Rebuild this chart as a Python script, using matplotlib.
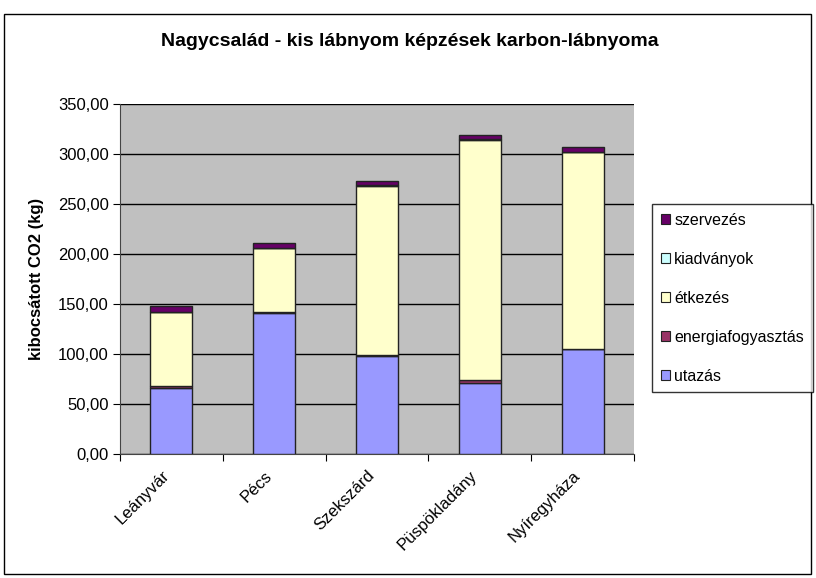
import matplotlib
matplotlib.use("Agg")
import matplotlib.pyplot as plt
from matplotlib.patches import Rectangle, Patch
from matplotlib.transforms import ScaledTranslation
import numpy as np

plt.rcParams['font.family'] = ['Liberation Sans', 'DejaVu Sans']

categories = ["Leányvár", "Pécs", "Szekszárd", "Püspökladány", "Nyíregyháza"]
utazas = [66.5, 141.5, 98.5, 71.5, 105.0]
energia = [1.5, 0.5, 1.0, 2.5, 0.5]
etkezes = [74.0, 64.0, 169.0, 240.5, 196.5]
kiadvanyok = [0.2, 0.2, 0.2, 0.2, 0.2]
szervezes = [6.0, 5.0, 4.5, 4.5, 4.5]

series = [
    ("utazás", utazas, "#9999FF"),
    ("energiafogyasztás", energia, "#993366"),
    ("étkezés", etkezes, "#FFFFCC"),
    ("kiadványok", kiadvanyok, "#CCFFFF"),
    ("szervezés", szervezes, "#660066"),
]

W, H = 816, 578
fig = plt.figure(figsize=(W / 100, H / 100), dpi=100)
fig.patch.set_facecolor("white")

# outer border
fig.add_artist(Rectangle((4 / W, 4 / H), 807 / W, 560 / H, transform=fig.transFigure,
                         fill=False, edgecolor="black", linewidth=1.0))

ax = fig.add_axes([120 / W, (H - 454) / H, 514 / W, 350 / H])
ax.set_facecolor("#C0C0C0")

x = np.arange(len(categories))
bottom = np.zeros(len(categories))
handles = []
for name, vals, col in series:
    ax.bar(x, vals, width=0.41, bottom=bottom, color=col, edgecolor="#222222",
           linewidth=1.0, zorder=3)
    bottom += np.array(vals)
    handles.append(Patch(facecolor=col, edgecolor="#222222", linewidth=0.8, label=name))

ax.set_xlim(-0.5, len(categories) - 0.5)
ax.set_ylim(0, 350)
ax.set_yticks(np.arange(0, 351, 50))
ax.set_yticklabels([f"{v:.2f}".replace(".", ",") for v in np.arange(0, 351, 50)], fontsize=12)
ax.yaxis.grid(True, color="black", linewidth=1.0, zorder=1)
ax.set_axisbelow(True)

ax.set_xticks(np.arange(-0.5, len(categories), 1.0), minor=False)
ax.set_xticklabels([])
ax.set_xticks(x, minor=True)
ax.set_xticklabels(categories, minor=True, rotation=45, ha="right",
                   rotation_mode="anchor", fontsize=12)
ax.tick_params(axis="x", which="minor", length=0, pad=10)
ax.tick_params(axis="x", which="major", length=5, direction="out")
ax.tick_params(axis="y", length=5, direction="out", pad=3)
shift = ScaledTranslation(-10 / 100, 0, fig.dpi_scale_trans)
for lab in ax.get_xticklabels(minor=True):
    lab.set_transform(lab.get_transform() + shift)

for side in ["top", "right"]:
    ax.spines[side].set_visible(False)
ax.spines["left"].set_color("#444444")
ax.spines["bottom"].set_color("#444444")

ax.set_ylabel("kibocsátott CO2 (kg)", fontsize=12, fontweight="bold", labelpad=10)

fig.text(410 / W, 1 - 42 / H, "Nagycsalád - kis lábnyom képzések karbon-lábnyoma",
         ha="center", va="center", fontsize=14, fontweight="bold")

leg = fig.legend(handles=handles[::-1], loc="upper left",
                 bbox_to_anchor=(652 / W, 1 - 204 / H), fontsize=11.5,
                 frameon=True, fancybox=False, edgecolor="black",
                 handlelength=0.6, handleheight=0.6, handletextpad=0.25,
                 labelspacing=1.5, borderpad=0.55, borderaxespad=0)
leg.get_frame().set_linewidth(1.0)

fig.savefig("out.png", dpi=100)
